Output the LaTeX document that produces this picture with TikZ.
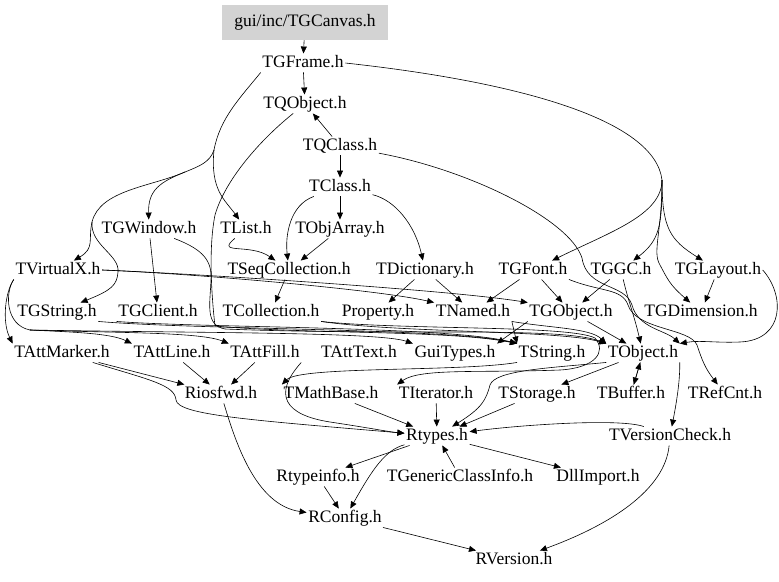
\documentclass[tikz,border=0pt]{standalone}
\usepackage{fontspec}
\setmainfont{Liberation Serif}
\usetikzlibrary{arrows.meta}
\definecolor{rootgray}{HTML}{D3D3D3}
\begin{document}
\begin{tikzpicture}[x=1pt,y=-1pt,
  lbl/.style={font=\fontsize{17.5}{20}\selectfont, inner sep=1.5pt, text height=12pt, text depth=3.5pt},
  ln/.style={draw, line width=0.6pt},
  e/.style={ln, -{Triangle[length=7pt,width=6pt]}}]
\useasboundingbox (0,0) rectangle (779,581);
\node[lbl, fill=rootgray, minimum width=166pt, minimum height=35pt, inner sep=0pt] (root) at (305,22.5) {gui/inc/TGCanvas.h};
\node[lbl] (TGFrame) at (303,63) {TGFrame.h};
\node[lbl] (TQObject) at (305,104) {TQObject.h};
\node[lbl] (TQClass) at (340,146) {TQClass.h};
\node[lbl] (TClass) at (340,187) {TClass.h};
\node[lbl] (TGWindow) at (149,229) {TGWindow.h};
\node[lbl] (TList) at (246,229) {TList.h};
\node[lbl] (TObjArray) at (340,229) {TObjArray.h};
\node[lbl] (TVirtualX) at (58,270) {TVirtualX.h};
\node[lbl] (TSeqColl) at (289,270) {TSeqCollection.h};
\node[lbl] (TDict) at (425,270) {TDictionary.h};
\node[lbl] (TGFont) at (533,270) {TGFont.h};
\node[lbl] (TGGC) at (621,270) {TGGC.h};
\node[lbl] (TGLayout) at (718,270) {TGLayout.h};
\node[lbl] (TGString) at (57,312) {TGString.h};
\node[lbl] (TGClient) at (158,312) {TGClient.h};
\node[lbl] (TColl) at (271,312) {TCollection.h};
\node[lbl] (Property) at (378,312) {Property.h};
\node[lbl] (TNamed) at (473,312) {TNamed.h};
\node[lbl] (TGObject) at (571,312) {TGObject.h};
\node[lbl] (TGDim) at (701,312) {TGDimension.h};
\node[lbl] (TAttMarker) at (62,353) {TAttMarker.h};
\node[lbl] (TAttLine) at (172,353) {TAttLine.h};
\node[lbl] (TAttFill) at (265,353) {TAttFill.h};
\node[lbl] (TAttText) at (359,353) {TAttText.h};
\node[lbl] (GuiTypes) at (455,353) {GuiTypes.h};
\node[lbl] (TString) at (552,353) {TString.h};
\node[lbl] (TObject) at (643,353) {TObject.h};
\node[lbl] (Riosfwd) at (221,394) {Riosfwd.h};
\node[lbl] (TMathBase) at (331,394) {TMathBase.h};
\node[lbl] (TIterator) at (436,394) {TIterator.h};
\node[lbl] (TStorage) at (537,394) {TStorage.h};
\node[lbl] (TBuffer) at (631,394) {TBuffer.h};
\node[lbl] (TRefCnt) at (725,394) {TRefCnt.h};
\node[lbl] (Rtypes) at (437,436) {Rtypes.h};
\node[lbl] (TVersionCheck) at (670,436) {TVersionCheck.h};
\node[lbl] (Rtypeinfo) at (318,477) {Rtypeinfo.h};
\node[lbl] (TGeneric) at (460,477) {TGenericClassInfo.h};
\node[lbl] (DllImport) at (598,477) {DllImport.h};
\node[lbl] (RConfig) at (345,518) {RConfig.h};
\node[lbl] (RVersion) at (514,560) {RVersion.h};

% branching points of shared routes
\coordinate (fl) at (214,150);
\coordinate (fl2) at (185,172);
\coordinate (fl3) at (92,222);
\coordinate (fr) at (662,180);
\coordinate (vx) at (30,330);

% top chain
\draw[e] (root) -- (TGFrame);
\draw[e] (TGFrame) -- (TQObject);
\draw[e] (TQClass) -- (TQObject);
\draw[e] (TQClass) -- (TClass);
\draw[e] (TClass) -- (TObjArray);
% TGFrame left branches
\draw[ln] (TGFrame.south west) .. controls (240,98) and (220,118) .. (fl);
\draw[e] (fl) .. controls (210,190) and (225,200) .. (TList);
\draw[ln] (fl) .. controls (210,162) and (200,166) .. (fl2);
\draw[e] (fl2) .. controls (160,182) and (148,190) .. (TGWindow);
\draw[ln] (fl2) .. controls (150,187) and (100,190) .. (fl3);
\draw[e] (fl3) .. controls (88,240) and (95,248) .. (TVirtualX);
\draw[e] (fl3) .. controls (90,245) and (120,255) .. (118,272) .. controls (117,285) and (112,290) .. (TGString);
% TGFrame right trunk
\draw[ln] (TGFrame.east) .. controls (520,82) and (655,120) .. (fr);
\draw[e] (fr) .. controls (662,215) and (610,232) .. (TGFont);
\draw[e] (fr) .. controls (662,225) and (660,240) .. (TGGC);
\draw[e] (fr) .. controls (662,228) and (670,240) .. (TGLayout);
\draw[e] (fr) .. controls (662,232) and (652,252) .. (660,265) .. controls (668,280) and (670,285) .. (TGDim);
% TQObject, TQClass
\draw[e] (TQObject) .. controls (260,140) and (225,180) .. (215,215) .. controls (208,250) and (212,300) .. (215,326) .. controls (300,334) and (450,330) .. (TString.north west);
\draw[e] (TQClass) .. controls (470,170) and (570,220) .. (582,258) .. controls (587,290) and (625,283) .. (632,305) .. controls (638,328) and (665,330) .. (TObject.north east);
% TClass
\draw[e] (TClass) .. controls (290,205) and (285,235) .. (TSeqColl);
\draw[e] (TClass) .. controls (395,200) and (415,225) .. (TDict);
% TGWindow
\draw[e] (TGWindow) -- (TGClient);
\draw[e] (TGWindow) .. controls (205,250) and (212,262) .. (211,280) .. controls (210,305) and (205,325) .. (225,329) .. controls (400,336) and (560,326) .. (TObject.north west);
% collections
\draw[e] (TList) .. controls (215,255) and (250,243) .. (TSeqColl);
\draw[e] (TObjArray) -- (TSeqColl);
\draw[e] (TSeqColl) -- (TColl);
\draw[e] (TColl.south east) .. controls (400,330) and (570,325) .. (595,338) .. controls (607,352) and (595,368) .. (560,370) .. controls (480,373) and (420,368) .. (TIterator.north west);
\draw[e] (TColl.south east) .. controls (400,333) and (560,330) .. (TObject.north west);
% dictionary
\draw[e] (TDict) -- (Property);
\draw[e] (TDict) -- (TNamed);
\draw[e] (TNamed.south east) .. controls (550,328) and (590,328) .. (TObject.north west);
\draw[e] (TNamed.south east) -- (TString.north west);
% gui
\draw[e] (TGFont) -- (TGObject);
\draw[e] (TGFont) -- (TNamed);
\draw[e] (TGFont.south east) .. controls (600,292) and (622,288) .. (628,305) .. controls (636,330) and (690,328) .. (697,345) .. controls (702,360) and (705,368) .. (TRefCnt);
\draw[e] (TGGC) -- (TGObject);
\draw[e] (TGGC) .. controls (628,300) and (634,315) .. (TObject);
\draw[e] (TGLayout) -- (TGDim);
\draw[e] (TGLayout.east) .. controls (785,295) and (785,340) .. (740,342) .. controls (715,343) and (700,340) .. (TObject.north east);
\draw[e] (TGObject) -- (TObject);
\draw[e] (TGObject.south west) .. controls (515,330) .. (GuiTypes.north east);
% TVirtualX
\draw[e] (TVirtualX.east) .. controls (200,274) and (380,290) .. (TNamed.north west);
\draw[e] (TVirtualX.east) .. controls (200,274) and (450,290) .. (TGObject.north west);
\draw[e] (TVirtualX.south west) .. controls (5,292) and (2,322) .. (TAttMarker.north west);
\draw[ln] (TVirtualX.south west) .. controls (5,292) and (5,325) .. (vx);
\draw[e] (vx) .. controls (70,332) and (110,333) .. (TAttLine.north west);
\draw[e] (vx) .. controls (120,333) and (200,332) .. (TAttFill.north west);
\draw[e] (vx) .. controls (200,333) and (380,332) .. (GuiTypes.north west);
\draw[e] (TGString.south east) .. controls (200,330) and (450,328) .. (TString.north west);
\draw[e] (TGClient.south west) .. controls (200,328) and (450,326) .. (TString.north west);
% lower
\draw[e] (TString.south west) .. controls (460,372) and (300,366) .. (TMathBase.north west);
\draw[e] (TObject.south west) .. controls (550,368) and (495,370) .. (490,385) .. controls (486,400) and (482,408) .. (Rtypes);
\draw[e] (TObject) -- (TStorage);
\draw[e] (TObject) -- (TBuffer);
\draw[e] (TBuffer) -- (TObject);
\draw[e] (TObject.south east) .. controls (680,380) and (677,400) .. (TVersionCheck);
\draw[e] (TVersionCheck) .. controls (620,418) and (520,425) .. (Rtypes);
\draw[e] (TVersionCheck) .. controls (665,490) and (610,525) .. (RVersion);
\draw[e] (TStorage) -- (Rtypes);
\draw[e] (TIterator) -- (Rtypes);
\draw[e] (TMathBase) -- (Rtypes);
\draw[e] (TAttMarker) -- (Riosfwd);
\draw[e] (TAttLine) -- (Riosfwd);
\draw[e] (TAttFill) -- (Riosfwd);
\draw[e] (TAttMarker) .. controls (150,380) and (175,385) .. (176,400) .. controls (178,415) and (250,420) .. (Rtypes);
\draw[e] (TAttFill.south east) .. controls (272,395) and (285,415) .. (330,422) .. controls (370,428) and (390,432) .. (Rtypes);
\draw[e] (Riosfwd) .. controls (235,440) and (255,505) .. (RConfig);
\draw[e] (Rtypes) -- (Rtypeinfo);
\draw[e] (Rtypes) .. controls (385,450) and (372,470) .. (RConfig);
\draw[e] (Rtypes) -- (DllImport);
\draw[e] (TGeneric) -- (Rtypes);
\draw[e] (Rtypeinfo) -- (RConfig);
\draw[e] (RConfig) -- (RVersion);
\end{tikzpicture}
\end{document}
